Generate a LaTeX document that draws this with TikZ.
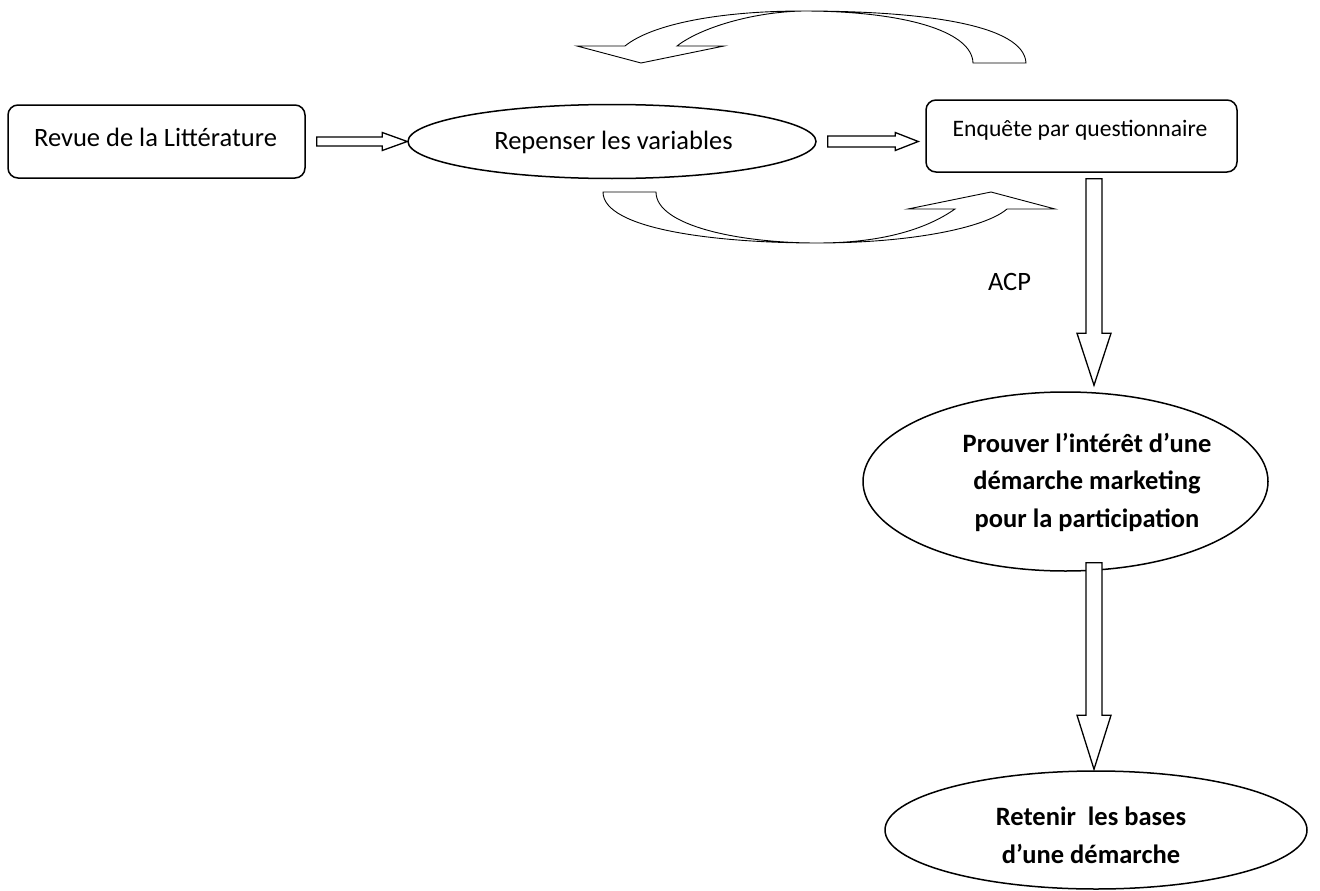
\documentclass[tikz,border=0pt]{standalone}
\usepackage{fontspec}
\setmainfont{Carlito}
\usetikzlibrary{shapes.geometric,calc}

% Hollow block arrow from #1 (tail) to #2 (tip):
% #3 shaft half-width, #4 head half-width, #5 head length
\newcommand\blkarrow[5]{%
  \path (#2) coordinate (ba-tip) (#1) coordinate (ba-tail);
  \path ($(ba-tip)!#5!(ba-tail)$) coordinate (ba-base);
  \draw[hollowarrow]
    ($(ba-tail)!#3!90:(ba-tip)$) -- ($(ba-base)!#3!90:(ba-tip)$)
    -- ($(ba-base)!#4!90:(ba-tip)$) -- (ba-tip)
    -- ($(ba-base)!#4!-90:(ba-tip)$) -- ($(ba-base)!#3!-90:(ba-tip)$)
    -- ($(ba-tail)!#3!-90:(ba-tip)$) -- cycle;
}

\tikzset{
  rbox/.style={draw, rounded corners=10pt, line width=1.5pt, inner sep=0pt, fill=white},
  oval/.style={draw, ellipse, line width=1.5pt, inner sep=0pt, fill=white},
  hollowarrow/.style={draw, fill=white, line width=1.3pt, line join=miter},
  curvearrow/.style={draw, fill=white, line width=0.9pt, line join=miter},
  txt/.style={inner sep=0pt, anchor=base, font=\fontsize{26.5}{37.5}\selectfont},
  boldtxt/.style={inner sep=0pt, anchor=base, align=center, font=\fontsize{26.5}{37.5}\selectfont\bfseries},
}

\begin{document}
\begin{tikzpicture}[x=1pt, y=-1pt]
  \useasboundingbox (0,0) rectangle (1320,891);

  % main steps
  \node[rbox, minimum width=297pt, minimum height=73pt] (lit) at (156.5,141.5) {};
  \node[oval, minimum width=408pt, minimum height=74pt] (rep) at (612,141.5) {};
  \node[rbox, minimum width=311pt, minimum height=72pt] (enq) at (1081.5,136) {};
  \node[oval, minimum width=405pt, minimum height=179pt] (prv) at (1065.5,481.5) {};
  \node[oval, minimum width=422pt, minimum height=118pt] (ret) at (1096,830) {};

  % vertical axis of the descending arrows
  \coordinate (axis) at (1094,0);

  % block arrows between the steps
  \blkarrow{$(lit.east)+(11,0)$}{rep.west}{4.5pt}{9pt}{25pt}
  \blkarrow{$(rep.east)+(11,0)$}{$(enq.west |- rep.east)+(-7,0)$}{5.5pt}{9pt}{23pt}
  \blkarrow{$(axis |- enq.south)+(0,6)$}{$(axis |- prv.north)+(0,-6)$}{8pt}{17pt}{52pt}
  \blkarrow{$(axis |- prv.south)+(0,-9)$}{$(axis |- ret.north)+(0,-1)$}{8pt}{17pt}{54pt}

  % texts (multi-line blocks are anchored on their last baseline)
  \node[txt] (litT) at (155.5,146) {Revue de la Littérature};
  \node[txt] (repT) at (613.5,149) {Repenser les variables};
  \node[txt, font=\fontsize{23.6}{28}\selectfont] (enqT) at (1080,136) {Enquête par questionnaire};
  \node[txt] (acp) at (1009.5,290) {ACP};
  \node[boldtxt] (prvT) at (1087,527) {Prouver l’intérêt d’une\\démarche marketing\\pour la participation};
  \node[boldtxt] (retT) at (1091,863) {Retenir\ \ les bases\\d’une démarche};

  % feedback loop above: from the survey back to the variables
  \path[curvearrow]
    (1026,63) .. controls (1024,24) and (920,11) .. (803,11)
    .. controls (720,11) and (652,24) .. (625,46)
    -- (577,46) -- (641,63) -- (724,46) -- (677,46)
    .. controls (700,28) and (752,12) .. (803,11)
    .. controls (900,11) and (972,30) .. (973,63) -- cycle;

  % loop below: from the variables to the survey
  \path[curvearrow]
    (603,192) -- (656,192)
    .. controls (656,226) and (740,243) .. (817,243)
    .. controls (880,243) and (925,230) .. (955,209)
    -- (908,209) -- (991,192) -- (1055,209) -- (1007,209)
    .. controls (985,228) and (910,243) .. (817,243)
    .. controls (720,243) and (603,230) .. (603,192) -- cycle;
\end{tikzpicture}
\end{document}
